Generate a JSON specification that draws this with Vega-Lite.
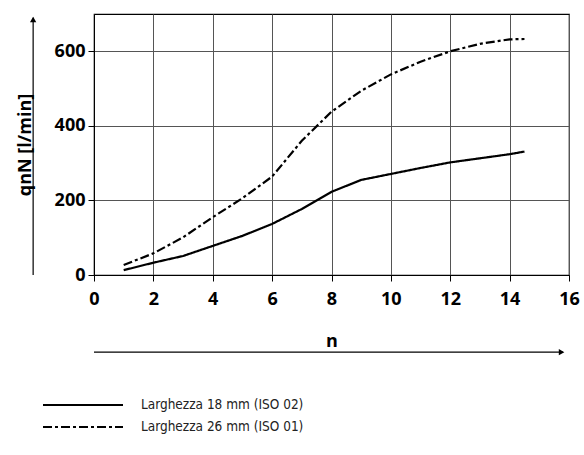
{
  "$schema": "https://vega.github.io/schema/vega-lite/v6.json",
  "width": 475,
  "height": 261,
  "autosize": "none",
  "padding": {"left": 94, "top": 14, "right": 15, "bottom": 180},
  "background": "white",
  "config": {
    "view": {"stroke": "black", "strokeWidth": 1.2},
    "font": "Open Sans",
    "axis": {
      "labelOverlap": false, "labelFlush": false, "labelBound": false, "labelSeparation": -30,
      "grid": true, "gridColor": "#555", "gridWidth": 1, "gridOpacity": 1,
      "domainColor": "black", "tickColor": "black", "tickSize": 6,
      "labelFont": "Open Sans", "labelFontWeight": "bold", "labelFontSize": 18, "labelColor": "black",
      "titleFont": "Open Sans", "titleFontWeight": "bold", "titleFontSize": 18, "titleColor": "black"
    },
    "axisX": {"labelPadding": 9, "titlePadding": 24},
    "axisY": {"labelPadding": 3, "titlePadding": 20, "labelOverlap": false}
  },
  "layer": [
    {
      "data": {"values": [{"x": -2.05, "y0": 0, "y1": 690}]},
      "mark": {"type": "rule", "color": "black", "strokeWidth": 1.2},
      "encoding": {
        "x": {"field": "x", "type": "quantitative", "scale": {"domain": [0, 16], "nice": false},
          "axis": {"values": [0, 2, 4, 6, 8, 10, 12, 14, 16], "title": "n", "labelOverlap": false}},
        "y": {"field": "y0", "type": "quantitative", "scale": {"domain": [0, 700], "nice": false},
          "axis": {"values": [0, 100, 200, 300, 400, 500, 600, 700], "title": "qnN [l/min]", "labelOverlap": false, "labelSeparation": -30}},
        "y2": {"field": "y1"}
      }
    },
    {
      "data": {"values": [{"x": -2.05, "y": 685}]},
      "mark": {"type": "point", "shape": "triangle-up", "filled": true, "color": "black", "size": 40, "opacity": 1},
      "encoding": {"x": {"field": "x", "type": "quantitative"}, "y": {"field": "y", "type": "quantitative"}}
    },
    {
      "data": {"values": [{"x0": 0, "x1": 15.8, "y": -207}]},
      "mark": {"type": "rule", "color": "black", "strokeWidth": 1.2},
      "encoding": {"x": {"field": "x0", "type": "quantitative"}, "x2": {"field": "x1"}, "y": {"field": "y", "type": "quantitative"}}
    },
    {
      "data": {"values": [{"x": 15.75, "y": -207}]},
      "mark": {"type": "point", "shape": "triangle-right", "filled": true, "color": "black", "size": 40, "opacity": 1},
      "encoding": {"x": {"field": "x", "type": "quantitative"}, "y": {"field": "y", "type": "quantitative"}}
    },
    {
      "data": {"values": [
        {"n": 1, "q": 13, "serie": "Larghezza 18 mm (ISO 02)"},
        {"n": 2, "q": 33, "serie": "Larghezza 18 mm (ISO 02)"},
        {"n": 3, "q": 51, "serie": "Larghezza 18 mm (ISO 02)"},
        {"n": 4, "q": 78, "serie": "Larghezza 18 mm (ISO 02)"},
        {"n": 5, "q": 105, "serie": "Larghezza 18 mm (ISO 02)"},
        {"n": 6, "q": 137, "serie": "Larghezza 18 mm (ISO 02)"},
        {"n": 7, "q": 177, "serie": "Larghezza 18 mm (ISO 02)"},
        {"n": 8, "q": 223, "serie": "Larghezza 18 mm (ISO 02)"},
        {"n": 9, "q": 255, "serie": "Larghezza 18 mm (ISO 02)"},
        {"n": 10, "q": 271, "serie": "Larghezza 18 mm (ISO 02)"},
        {"n": 11, "q": 287, "serie": "Larghezza 18 mm (ISO 02)"},
        {"n": 12, "q": 302, "serie": "Larghezza 18 mm (ISO 02)"},
        {"n": 13, "q": 313, "serie": "Larghezza 18 mm (ISO 02)"},
        {"n": 14, "q": 324, "serie": "Larghezza 18 mm (ISO 02)"},
        {"n": 14.5, "q": 331, "serie": "Larghezza 18 mm (ISO 02)"},
        {"n": 1, "q": 27, "serie": "Larghezza 26 mm (ISO 01)"},
        {"n": 2, "q": 58, "serie": "Larghezza 26 mm (ISO 01)"},
        {"n": 3, "q": 101, "serie": "Larghezza 26 mm (ISO 01)"},
        {"n": 4, "q": 155, "serie": "Larghezza 26 mm (ISO 01)"},
        {"n": 5, "q": 206, "serie": "Larghezza 26 mm (ISO 01)"},
        {"n": 6, "q": 264, "serie": "Larghezza 26 mm (ISO 01)"},
        {"n": 7, "q": 360, "serie": "Larghezza 26 mm (ISO 01)"},
        {"n": 8, "q": 438, "serie": "Larghezza 26 mm (ISO 01)"},
        {"n": 9, "q": 494, "serie": "Larghezza 26 mm (ISO 01)"},
        {"n": 10, "q": 538, "serie": "Larghezza 26 mm (ISO 01)"},
        {"n": 11, "q": 572, "serie": "Larghezza 26 mm (ISO 01)"},
        {"n": 12, "q": 600, "serie": "Larghezza 26 mm (ISO 01)"},
        {"n": 13, "q": 620, "serie": "Larghezza 26 mm (ISO 01)"},
        {"n": 14, "q": 632, "serie": "Larghezza 26 mm (ISO 01)"},
        {"n": 14.5, "q": 633, "serie": "Larghezza 26 mm (ISO 01)"}
      ]},
      "mark": {"type": "line", "color": "black", "strokeWidth": 2.2},
      "encoding": {
        "x": {"field": "n", "type": "quantitative"},
        "y": {"field": "q", "type": "quantitative"},
        "strokeDash": {
          "field": "serie", "type": "nominal",
          "scale": {"domain": ["Larghezza 18 mm (ISO 02)", "Larghezza 26 mm (ISO 01)"], "range": [[1, 0], [9, 3, 3, 3]]},
          "legend": {
            "orient": "none", "legendX": -22, "legendY": 380, "title": null,
            "symbolType": "M-4,0H4", "symbolSize": 400, "symbolStrokeWidth": 2, "symbolStrokeColor": "black",
            "labelFont": "DejaVu Sans Condensed", "labelFontSize": 13.5, "labelColor": "#222", "labelLimit": 0,
            "labelOffset": 47, "rowPadding": 4, "padding": 0
          }
        }
      }
    }
  ]
}
